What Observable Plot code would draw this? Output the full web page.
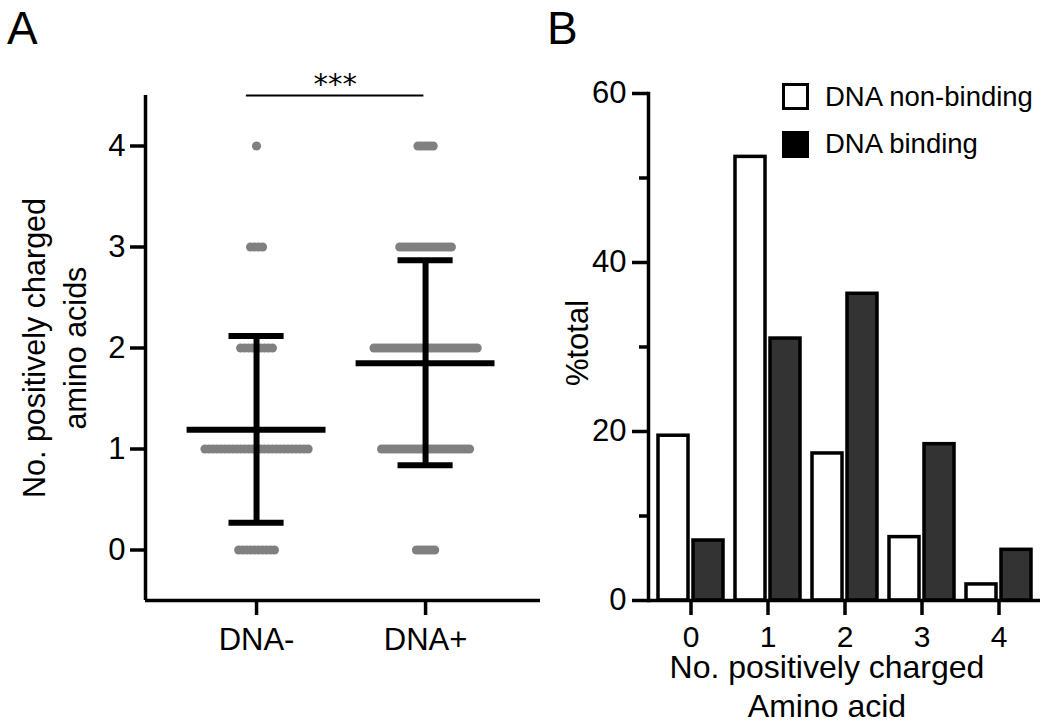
<!DOCTYPE html>
<html><head><meta charset="utf-8">
<script src="https://cdn.jsdelivr.net/npm/d3@7"></script>
<script src="https://cdn.jsdelivr.net/npm/@observablehq/plot@0.6"></script>
<style>
html,body{margin:0;padding:0;background:#fff;}
#fig{position:relative;width:1050px;height:724px;overflow:hidden;font-family:"Liberation Sans",Arial,sans-serif;color:#000;background:#fff;}
#fig svg{position:absolute;top:0;}
.lbl{position:absolute;white-space:nowrap;line-height:1;color:#000;}
.rot{position:absolute;white-space:nowrap;text-align:center;transform:translate(-50%,-50%) rotate(-90deg);color:#000;}
.sq{position:absolute;width:21px;height:21px;border:3px solid #000;box-sizing:content-box;}
</style></head><body>
<div id="fig"></div>
<script>
// ---------- Panel A data ----------
const groups = ["DNA-", "DNA+"];
const chargeValues = [0, 1, 2, 3, 4];
const countsDNAminus = [10, 27, 9, 4, 1];
const countsDNAplus = [7, 30, 35, 18, 6];
const meanValues = [1.19, 1.85];
const sdLow = [0.27, 0.84];
const sdHigh = [2.12, 2.87];
const yTicksA = [0, 1, 2, 3, 4];
const sigBracket = [-0.06, 0.99];
const sigLabel = "***";

// ---------- Panel B data ----------
const categoriesB = ["0", "1", "2", "3", "4"];
const nonBinding = [19.5, 52.5, 17.4, 7.5, 1.9];
const binding = [7.1, 31.0, 36.3, 18.5, 6.0];
const seriesNames = ["DNA non-binding", "DNA binding"];
const yMajorB = [0, 20, 40, 60];
const yMinorB = [10, 30, 50];

const FONT = '"Liberation Sans", Arial, sans-serif';
const fig = document.getElementById("fig");

// ----- Panel A -----
const countsByGroup = [countsDNAminus, countsDNAplus];
const stripHalfWidth = 0.305;
const dots = [];
countsByGroup.forEach((counts, g) => {
  const maxN = d3.max(counts);
  const step = maxN > 1 ? 2 * stripHalfWidth / (maxN - 1) : 0;
  counts.forEach((n, k) => {
    for (let i = 0; i < n; i++) dots.push({x: g + (i - (n - 1) / 2) * step, y: chargeValues[k]});
  });
});
const stats = groups.map((name, g) => ({g, mean: meanValues[g], lo: sdLow[g], hi: sdHigh[g]}));
const meanHalf = 0.411, capHalf = 0.163;
const xDomA = [-0.657, 1.68];

const plotA = Plot.plot({
  width: 560, height: 724,
  marginLeft: 145, marginRight: 20, marginTop: 95, marginBottom: 124,
  x: {domain: xDomA},
  y: {domain: [-0.5, 4.5]},
  style: {fontFamily: FONT, fontSize: "31px", color: "#000", background: "transparent", overflow: "visible"},
  marks: [
    Plot.dot(dots, {x: "x", y: "y", r: 4.6, fill: "#808080"}),
    Plot.ruleX(stats, {x: "g", y1: "lo", y2: "hi", strokeWidth: 6, stroke: "#000"}),
    Plot.ruleY(stats, {y: "lo", x1: d => d.g - capHalf, x2: d => d.g + capHalf, strokeWidth: 6, stroke: "#000"}),
    Plot.ruleY(stats, {y: "hi", x1: d => d.g - capHalf, x2: d => d.g + capHalf, strokeWidth: 6, stroke: "#000"}),
    Plot.ruleY(stats, {y: "mean", x1: d => d.g - meanHalf, x2: d => d.g + meanHalf, strokeWidth: 6, stroke: "#000"}),
    Plot.ruleX([xDomA[0]], {strokeWidth: 3.5, stroke: "#000"}),
    Plot.ruleY([-0.5], {strokeWidth: 3.5, stroke: "#000"}),
    Plot.ruleY([4.5], {x1: sigBracket[0], x2: sigBracket[1], strokeWidth: 2, stroke: "#000"}),
    Plot.text([sigLabel], {x: (sigBracket[0] + sigBracket[1]) / 2, y: 4.5, dy: -2, lineAnchor: "bottom", fontSize: 29, fontFamily: '"DejaVu Sans", sans-serif', fill: "#000"}),
    Plot.axisY({ticks: yTicksA, tickFormat: "d", tickSize: 15, tickPadding: 5, strokeWidth: 3.5, fontSize: 31, label: null}),
    Plot.axisX({ticks: [0, 1], tickFormat: i => groups[i], tickSize: 15, tickPadding: 12, strokeWidth: 3.5, fontSize: 31, label: null})
  ]
});
plotA.style.left = "0px";
fig.appendChild(plotA);

// ----- Panel B -----
const barData = categoriesB.map((c, i) => ({cat: c, non: nonBinding[i], bin: binding[i]}));
const plotB = Plot.plot({
  width: 520, height: 724,
  marginLeft: 118, marginRight: 10, marginTop: 93, marginBottom: 124,
  x: {domain: categoriesB, paddingInner: 0.16, paddingOuter: 0.1},
  y: {domain: [0, 60]},
  style: {fontFamily: FONT, fontSize: "31px", color: "#000", background: "transparent", overflow: "visible"},
  marks: [
    Plot.barY(barData, {x: "cat", y: "non", fill: "#ffffff", stroke: "#000", strokeWidth: 3.5, insetRight: 35}),
    Plot.barY(barData, {x: "cat", y: "bin", fill: "#333333", stroke: "#000", strokeWidth: 3.5, insetLeft: 35}),
    Plot.ruleY([0], {strokeWidth: 3.5, stroke: "#000"}),
    Plot.frame({anchor: "left", strokeWidth: 3.5, stroke: "#000"}),
    Plot.axisY({ticks: yMajorB, tickSize: 16, tickPadding: 6, strokeWidth: 3.5, fontSize: 31, label: null}),
    Plot.axisY({ticks: yMinorB, tickSize: 9, strokeWidth: 3.5, text: null, label: null}),
    Plot.axisX({tickSize: 15, tickPadding: 10, strokeWidth: 3.5, fontSize: 30, label: null})
  ]
});
plotB.style.left = "530px";
fig.appendChild(plotB);

// ----- HTML text: panel letters, titles, legend -----
function addLbl(text, left, top, size, extra) {
  const d = document.createElement("div");
  d.className = "lbl";
  d.textContent = text;
  d.style.left = left + "px"; d.style.top = top + "px"; d.style.fontSize = size + "px";
  if (extra) Object.assign(d.style, extra);
  fig.appendChild(d);
  return d;
}
function addRot(lines, cx, cy, size, lh) {
  const d = document.createElement("div");
  d.className = "rot";
  d.innerHTML = lines.map(s => `<div>${s}</div>`).join("");
  d.style.left = cx + "px"; d.style.top = cy + "px"; d.style.fontSize = size + "px"; d.style.lineHeight = lh + "px";
  fig.appendChild(d);
}
addLbl("A", 7, 5, 46);
addLbl("B", 547, 5, 46);
addRot(["No. positively charged", "amino acids"], 55, 348, 30.5, 41);
addRot(["%total"], 577, 343, 31, 31);
// x title panel B (two lines), tight line boxes
addLbl("No. positively charged", 827, 655.5, 32, {transform: "translateX(-50%)", lineHeight: "0.72"});
addLbl("Amino acid", 827, 694.5, 32, {transform: "translateX(-50%)", lineHeight: "0.72"});
// legend
const legendFill = ["#ffffff", "#000000"];
seriesNames.forEach((name, i) => {
  const s = document.createElement("div");
  s.className = "sq";
  s.style.left = "782px"; s.style.top = (83 + i * 48) + "px"; s.style.background = legendFill[i];
  fig.appendChild(s);
  addLbl(name, 825, 83 + i * 47, 27.5);
});
</script>
</body></html>
